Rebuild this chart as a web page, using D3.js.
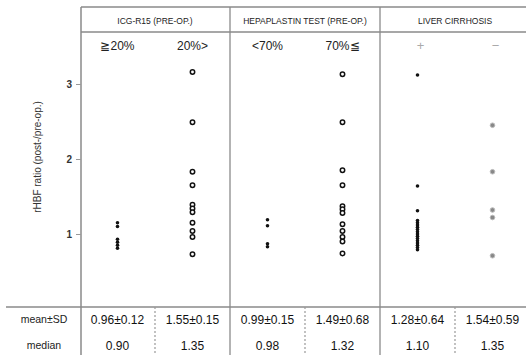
<!DOCTYPE html>
<html><head><meta charset="utf-8">
<script src="https://cdn.jsdelivr.net/npm/d3@7"></script>
<style>body{margin:0;background:#fff}svg{display:block;font-family:"Liberation Sans",Arial,sans-serif}</style>
</head><body><svg id="c" width="526" height="355"></svg>
<script>
const groups = ["ICG-R15 (PRE-OP.)", "HEPAPLASTIN TEST (PRE-OP.)", "LIVER CIRRHOSIS"];
const categories = ["≧20%", "20%>", "<70%", "70%≦", "+", "−"];
const values = [
  [1.15, 1.10, 0.93, 0.89, 0.85, 0.81],
  [3.16, 2.49, 1.83, 1.65, 1.39, 1.34, 1.29, 1.15, 1.04, 0.96, 0.73],
  [1.19, 1.11, 0.87, 0.83],
  [3.13, 2.49, 1.85, 1.65, 1.37, 1.33, 1.28, 1.13, 1.04, 0.96, 0.90, 0.74],
  [3.12, 1.64, 1.31, 1.18, 1.15, 1.12, 1.09, 1.06, 1.03, 1.00, 0.97, 0.94, 0.91, 0.88, 0.85, 0.82, 0.79],
  [2.45, 1.83, 1.32, 1.22, 0.71]
];
const meanSD = ["0.96±0.12", "1.55±0.15", "0.99±0.15", "1.49±0.68", "1.28±0.64", "1.54±0.59"];
const medians = ["0.90", "1.35", "0.98", "1.32", "1.10", "1.35"];
const yTicks = [1, 2, 3];
const markStyle = ["dot", "ring", "dot", "ring", "dot", "grey"];

const svg = d3.select("#c");
const x = d3.scaleBand().domain(categories).range([80, 530]);
const y = d3.scaleLinear().domain([0, 1]).range([309, 234]);
const line = "#8a8a8a";

// frame
svg.append("line").attr("x1", 81).attr("x2", 526).attr("y1", 7).attr("y2", 7).attr("stroke", line).attr("stroke-width", 1.3);
svg.append("line").attr("x1", 81).attr("x2", 526).attr("y1", 32).attr("y2", 32).attr("stroke", line).attr("stroke-width", 1.3);
svg.append("line").attr("x1", 81).attr("x2", 81).attr("y1", 7).attr("y2", 355).attr("stroke", line).attr("stroke-width", 1.5);
svg.append("line").attr("x1", 6).attr("x2", 526).attr("y1", 307).attr("y2", 307).attr("stroke", line).attr("stroke-width", 1.3);
[2, 4].forEach(i => {
  svg.append("line").attr("x1", x(categories[i])).attr("x2", x(categories[i]))
    .attr("y1", 7).attr("y2", 355).attr("stroke", line).attr("stroke-width", 1.3);
});
[1, 3, 5].forEach(i => {
  svg.append("line").attr("x1", x(categories[i])).attr("x2", x(categories[i]))
    .attr("y1", 307).attr("y2", 355).attr("stroke", "#999").attr("stroke-width", 1.2)
    .attr("stroke-dasharray", "2,2");
});

// group titles
groups.forEach((g, i) => {
  const cx = (x(categories[2 * i]) + x(categories[2 * i + 1]) + x.bandwidth()) / 2;
  svg.append("text").attr("x", cx).attr("y", 24).attr("text-anchor", "middle")
    .attr("font-size", 8.5).attr("fill", "#222").text(g);
});
// category labels
categories.forEach((c, i) => {
  svg.append("text").attr("x", x(c) + x.bandwidth() / 2 + (i < 4 ? 0 : 3)).attr("y", 50)
    .attr("text-anchor", "middle").attr("font-size", i < 4 ? 12 : 13)
    .attr("fill", i < 4 ? "#222" : "#aaa").text(c);
});

// y axis
const ax = svg.append("g").attr("transform", "translate(81,0)")
  .call(d3.axisLeft(y).tickValues(yTicks).tickSize(5).tickPadding(4).tickFormat(d3.format("d")));
ax.select(".domain").remove();
ax.selectAll("line").attr("stroke", "#999");
ax.selectAll("text").attr("font-size", 10).attr("font-weight", "bold").attr("fill", "#333")
  .attr("font-family", "Liberation Sans, Arial, sans-serif");
svg.append("text").attr("transform", "translate(41,157) rotate(-90)").attr("text-anchor", "middle")
  .attr("font-size", 10).attr("fill", "#333").text("rHBF ratio (post-/pre-op.)");

// points
values.forEach((vals, i) => {
  const cx = x(categories[i]) + x.bandwidth() / 2;
  const st = markStyle[i];
  svg.append("g").selectAll("circle").data(vals).join("circle")
    .attr("cx", cx).attr("cy", d => y(d))
    .attr("r", st === "ring" ? 2.2 : st === "grey" ? 2.3 : 1.8)
    .attr("fill", st === "ring" ? "#fff" : st === "grey" ? "#888" : "#111")
    .attr("stroke", st === "ring" ? "#111" : st === "grey" ? "#bbb" : "none")
    .attr("stroke-width", st === "ring" ? 1.5 : 1);
});

// table
svg.append("text").attr("x", 44).attr("y", 323).attr("text-anchor", "middle").attr("font-size", 10.5).attr("fill", "#222").text("mean±SD");
svg.append("text").attr("x", 44).attr("y", 349).attr("text-anchor", "middle").attr("font-size", 10.5).attr("fill", "#222").text("median");
categories.forEach((c, i) => {
  const cx = x(c) + x.bandwidth() / 2;
  svg.append("text").attr("x", cx).attr("y", 324).attr("text-anchor", "middle").attr("font-size", 12).attr("fill", "#111").text(meanSD[i]);
  svg.append("text").attr("x", cx).attr("y", 350).attr("text-anchor", "middle").attr("font-size", 12).attr("fill", "#111").text(medians[i]);
});
</script></body></html>
